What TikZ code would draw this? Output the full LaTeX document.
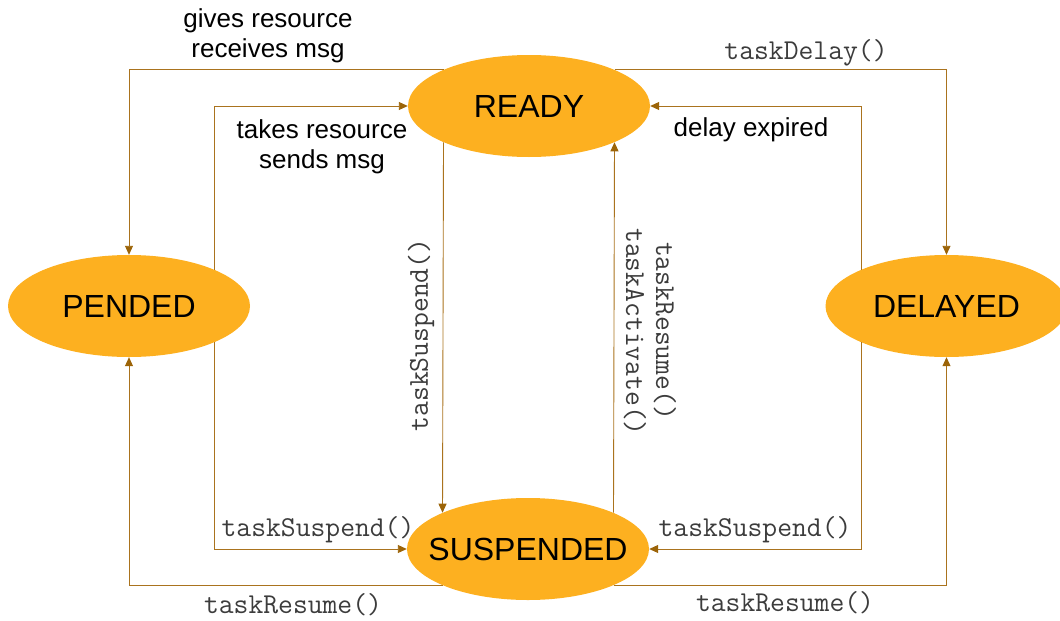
\documentclass[tikz,border=0pt]{standalone}
\usepackage{fontspec}
\setmainfont{Liberation Sans}
\usetikzlibrary{arrows.meta,shapes.geometric}
\definecolor{statefill}{RGB}{253,176,32}
\definecolor{wire}{RGB}{170,115,30}
\definecolor{tipcol}{RGB}{156,100,8}
\definecolor{codecol}{RGB}{60,60,60}
\tikzset{
  state/.style={ellipse, fill=statefill, inner sep=0pt,
    minimum width=242pt, minimum height=102pt,
    font=\fontsize{32}{38}\selectfont},
  wirepath/.style={draw=wire, line width=0.9pt,
    -{Triangle[length=9pt,width=8pt,color=tipcol]}},
  note/.style={font=\fontsize{26}{30}\selectfont, align=center, inner sep=0pt},
  code/.style={font=\ttfamily\fontsize{28.8}{32}\selectfont, text=codecol, inner sep=0pt}
}
\begin{document}
\begin{tikzpicture}[x=1pt,y=-1pt]
\useasboundingbox (0,0) rectangle (1060,621);

% states
\node[state] (R) at (529,106) {\makebox[0pt]{READY}};
\node[state] (P) at (129,306) {\makebox[0pt]{PENDED}};
\node[state] (D) at (946.5,306) {\makebox[0pt]{DELAYED}};
\node[state] (S) at (528,549) {\makebox[0pt]{SUSPENDED}};

% transitions
\draw[wirepath] (R.157) -| (P.north);
\draw[wirepath] (P.23) |- (R.west);
\draw[wirepath] (R.23) -| (D.north);
\draw[wirepath] (D.157) |- (R.east);
\draw[wirepath] (R.203) -- (S.157);
\draw[wirepath] (S.23) -- (R.337);
\draw[wirepath] (P.337) |- (S.west);
\draw[wirepath] (S.203) -| (P.south);
\draw[wirepath] (D.203) |- (S.east);
\draw[wirepath] (S.337) -| (D.south);

% labels
\node[note] (l1) at (268,36) {gives resource\\receives msg};
\node[note] (l2) at (322,147) {takes resource\\sends msg};
\node[note] (l3) at (751,130) {delay expired};
\node[code] (l4) at (806,53) {taskDelay()};
\node[code, rotate=90] (l5) at (421,335) {taskSuspend()};
\node[code, rotate=-90] (l6) at (635,332) {taskActivate()};
\node[code, rotate=-90] (l7) at (665,331) {taskResume()};
\node[code] (l8) at (318,530) {taskSuspend()};
\node[code] (l9) at (293,605) {taskResume()};
\node[code] (l10) at (755,530) {taskSuspend()};
\node[code] (l11) at (785,603) {taskResume()};
\end{tikzpicture}
\end{document}
